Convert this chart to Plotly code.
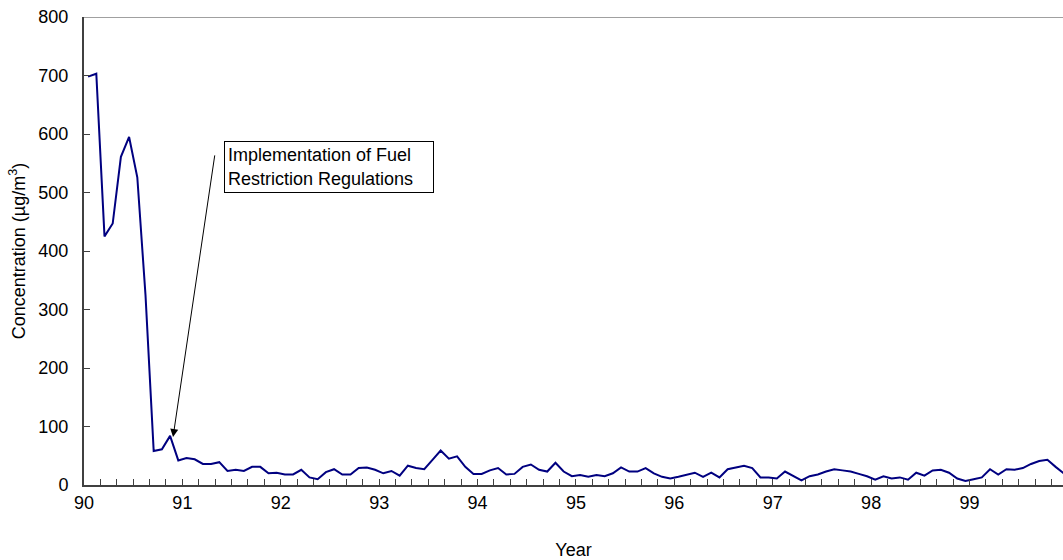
import plotly.graph_objects as go

# Monthly SO2 concentration, Jan 1990 .. Dec 1999 (µg/m3)
concentration = [
    698, 703, 425, 447, 561, 595, 526, 325, 58, 61,
    84, 42, 46, 44, 36, 36, 39, 24, 26, 24,
    31, 31, 20, 21, 18, 18, 26, 13, 10, 22,
    27, 18, 18, 29, 30, 26, 20, 24, 16, 33,
    29, 27, 43, 59, 45, 49, 31, 19, 19, 25,
    29, 18, 19, 31, 35, 26, 23, 38, 23, 15,
    17, 14, 17, 15, 20, 30, 23, 23, 29, 20,
    14, 11, 14, 17, 21, 14, 21, 13, 27, 30,
    33, 29, 13, 13, 11, 23, 15, 8, 15, 18,
    23, 27, 25, 23, 19, 15, 9, 15, 11, 13,
    9, 21, 16, 25, 26, 21, 11, 7, 10, 13,
    27, 18, 27, 26, 29, 36, 41, 43, 31, 20,
]
start_year = 90
year_ticks = [90, 91, 92, 93, 94, 95, 96, 97, 98, 99]
year_labels = ["90", "91", "92", "93", "94", "95", "96", "97", "98", "99"]
y_ticks = [0, 100, 200, 300, 400, 500, 600, 700, 800]

# month mid-points in year units
x_years = [start_year + (i + 0.5) / 12 for i in range(len(concentration))]

FONT = "Liberation Sans, Arial, sans-serif"
AXIS_COLOR = "#404040"

fig = go.Figure()
fig.add_trace(go.Scatter(
    x=x_years, y=concentration, mode="lines",
    line=dict(color="#000080", width=2),
    hoverinfo="x+y", showlegend=False, cliponaxis=True,
))

# arrow pointing at the implementation month
fig.add_annotation(
    x=90.905, y=82, ax=91.331, ay=566, xref="x", yref="y", axref="x", ayref="y",
    text="", showarrow=True, arrowhead=2, arrowsize=1.6, arrowwidth=1,
    arrowcolor="black",
)
# text box
fig.add_annotation(
    x=91.423, y=588, xref="x", yref="y", xanchor="left", yanchor="top",
    text="Implementation of Fuel<br>Restriction Regulations",
    showarrow=False, align="left", width=202, height=44,
    bordercolor="black", borderwidth=1, borderpad=3, bgcolor="white",
    font=dict(family=FONT, size=18, color="black"),
)

# top border of the plot area
fig.add_shape(type="line", xref="paper", yref="y", x0=0, x1=1, y0=800, y1=800,
              line=dict(color="#808080", width=1.5))

fig.update_layout(
    width=1063, height=560,
    margin=dict(l=84, r=0, t=17, b=75),
    paper_bgcolor="white", plot_bgcolor="white",
    font=dict(family=FONT, size=18, color="black"),
    showlegend=False,
    xaxis=dict(
        range=[90, 99.95], tickmode="array", tickvals=year_ticks, ticktext=year_labels,
        ticks="inside", ticklen=6, tickwidth=1, tickcolor=AXIS_COLOR,
        minor=dict(dtick=1 / 6, tick0=90, ticks="inside", ticklen=6, tickwidth=1,
                   tickcolor=AXIS_COLOR),
        showline=True, linecolor=AXIS_COLOR, linewidth=2,
        showgrid=False, zeroline=False,
        tickfont=dict(size=18),
        title=dict(text="Year", font=dict(size=18), standoff=32),
        automargin=False,
    ),
    yaxis=dict(
        range=[0, 800], tickmode="array", tickvals=y_ticks,
        ticks="inside", ticklen=6, tickwidth=1, tickcolor=AXIS_COLOR,
        showline=True, linecolor=AXIS_COLOR, linewidth=2,
        showgrid=False, zeroline=False,
        tickfont=dict(size=18), ticklabelstandoff=10,
        title=dict(text="Concentration (µg/m<sup>3</sup>)", font=dict(size=18), standoff=8),
        automargin=False,
    ),
)

fig.write_html(
    "out.html",
    config={"displayModeBar": False},
    post_script="document.body.style.margin='0';document.body.style.overflow='hidden';",
)
